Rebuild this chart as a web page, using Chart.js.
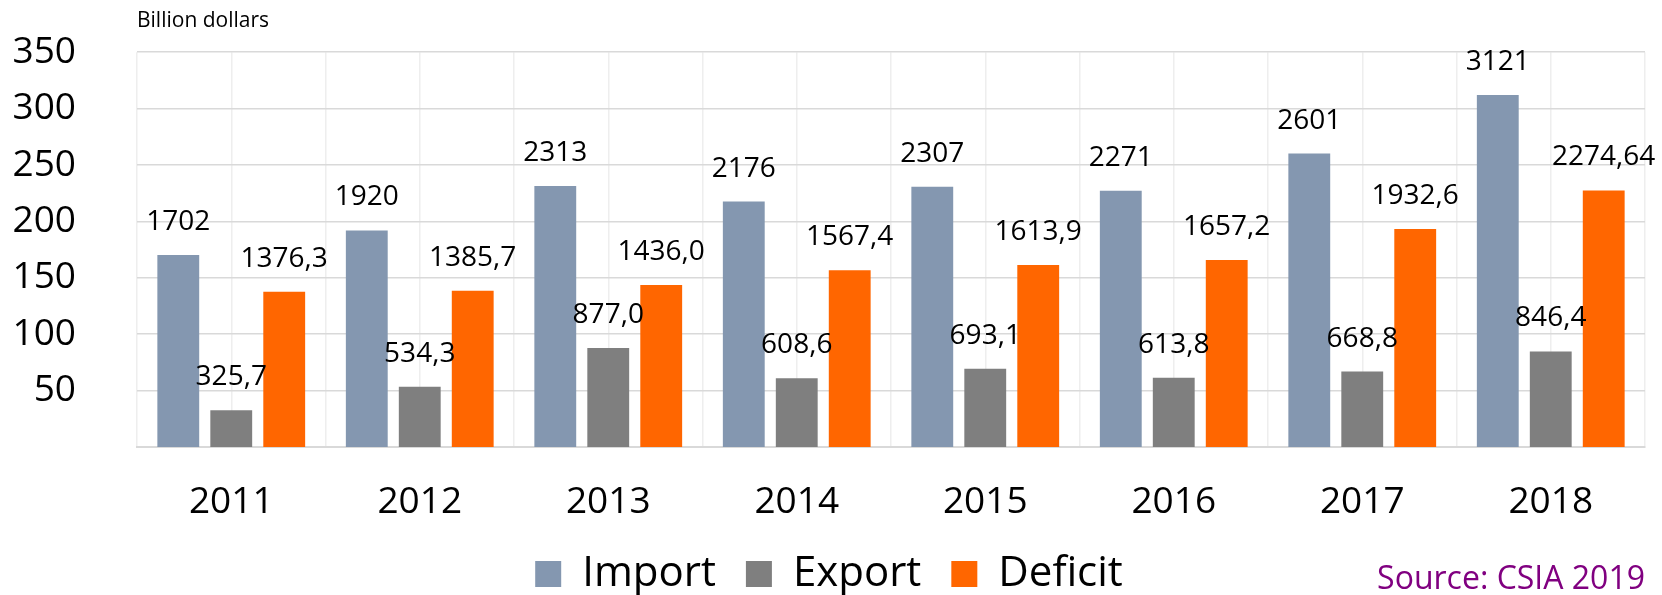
<!DOCTYPE html>
<html>
<head>
<meta charset="utf-8">
<script src="https://cdn.jsdelivr.net/npm/chart.js@4/dist/chart.umd.min.js"></script>
<style>
    body { margin: 0; background: #fff; }
    #wrap { width: 1662px; height: 595px; }
</style>
</head>
<body>
<div id="wrap"><canvas id="tradeChart" width="1662" height="595"></canvas></div>
<script>
const years = ['2011', '2012', '2013', '2014', '2015', '2016', '2017', '2018'];
const importValues = [170.2, 192.0, 231.3, 217.6, 230.7, 227.1, 260.1, 312.1];
const exportValues = [32.57, 53.43, 87.7, 60.86, 69.31, 61.38, 66.88, 84.64];
const deficitValues = [137.63, 138.57, 143.6, 156.74, 161.39, 165.72, 193.26, 227.46];
const importLabels = ['1702', '1920', '2313', '2176', '2307', '2271', '2601', '3121'];
const exportLabels = ['325,7', '534,3', '877,0', '608,6', '693,1', '613,8', '668,8', '846,4'];
const deficitLabels = ['1376,3', '1385,7', '1436,0', '1567,4', '1613,9', '1657,2', '1932,6', '2274,64'];
const yTickValues = [50, 100, 150, 200, 250, 300, 350];

const FONT = '"Open Sans", "Noto Sans", sans-serif';

// labels above each bar
const barLabels = {
    id: 'barLabels',
    afterDatasetsDraw(chart) {
        const ctx = chart.ctx;
        ctx.save();
        ctx.font = '28px ' + FONT;
        ctx.fillStyle = '#000';
        ctx.textAlign = 'center';
        ctx.textBaseline = 'middle';
        chart.data.datasets.forEach((ds, i) => {
            chart.getDatasetMeta(i).data.forEach((bar, j) => {
                ctx.fillText(ds.valueText[j], bar.x, bar.y - 33);
            });
        });
        ctx.restore();
    }
};

// source note, bottom right
const sourceNote = {
    id: 'sourceNote',
    afterDraw(chart) {
        const ctx = chart.ctx;
        ctx.save();
        ctx.font = '32px ' + FONT;
        ctx.fillStyle = '#800080';
        ctx.textAlign = 'right';
        ctx.textBaseline = 'alphabetic';
        ctx.fillText('Source: CSIA 2019', 1645, 589);
        ctx.restore();
    }
};

const ctx = document.getElementById('tradeChart').getContext('2d');
new Chart(ctx, {
    type: 'bar',
    data: {
        labels: years,
        datasets: [
            { label: 'Import', data: importValues, valueText: importLabels, backgroundColor: '#8497B0' },
            { label: 'Export', data: exportValues, valueText: exportLabels, backgroundColor: '#7F7F7F' },
            { label: 'Deficit', data: deficitValues, valueText: deficitLabels, backgroundColor: '#FF6600' }
        ]
    },
    options: {
        responsive: false,
        animation: false,
        categoryPercentage: 0.843,
        barPercentage: 0.79,
        layout: { padding: { left: 13, right: 17, top: 0, bottom: 0 } },
        scales: {
            x: {
                grid: { color: '#eeeeee', lineWidth: 1.5, drawTicks: false },
                border: { display: true, color: '#d9d9d9', width: 2 },
                ticks: { color: '#000', padding: 37, font: { family: FONT, size: 37, lineHeight: 1.0 } },
                afterFit: scale => {
                    scale.height = 76;
                    scale.paddingLeft = 0;
                    scale.paddingRight = 0;
                }
            },
            x2: {
                type: 'category',
                labels: years,
                offset: true,
                position: 'bottom',
                grid: { offset: false, color: '#eeeeee', lineWidth: 1.5, drawTicks: false },
                border: { display: false },
                ticks: { display: false }
            },
            y: {
                min: 0,
                max: 350,
                afterBuildTicks: axis => { axis.ticks = yTickValues.map(v => ({ value: v })); },
                grid: { color: '#d9d9d9', lineWidth: 1.5, drawTicks: false },
                border: { display: false },
                ticks: { color: '#000', padding: 61, font: { family: FONT, size: 37 } },
                afterFit: scale => {
                    scale.width = 124;
                    scale.paddingTop = 22;
                    scale.paddingBottom = 0;
                }
            }
        },
        plugins: {
            title: {
                display: true,
                text: 'Billion dollars',
                align: 'start',
                fullSize: false,
                color: '#000',
                font: { family: FONT, size: 21, weight: 'normal' },
                padding: { top: 8, bottom: 19 }
            },
            legend: {
                position: 'bottom',
                maxHeight: 72,
                labels: {
                    color: '#000',
                    boxWidth: 26,
                    boxHeight: 26,
                    padding: 30,
                    font: { family: FONT, size: 42 }
                }
            },
            tooltip: { enabled: false }
        }
    },
    plugins: [barLabels, sourceNote]
});
</script>
</body>
</html>
